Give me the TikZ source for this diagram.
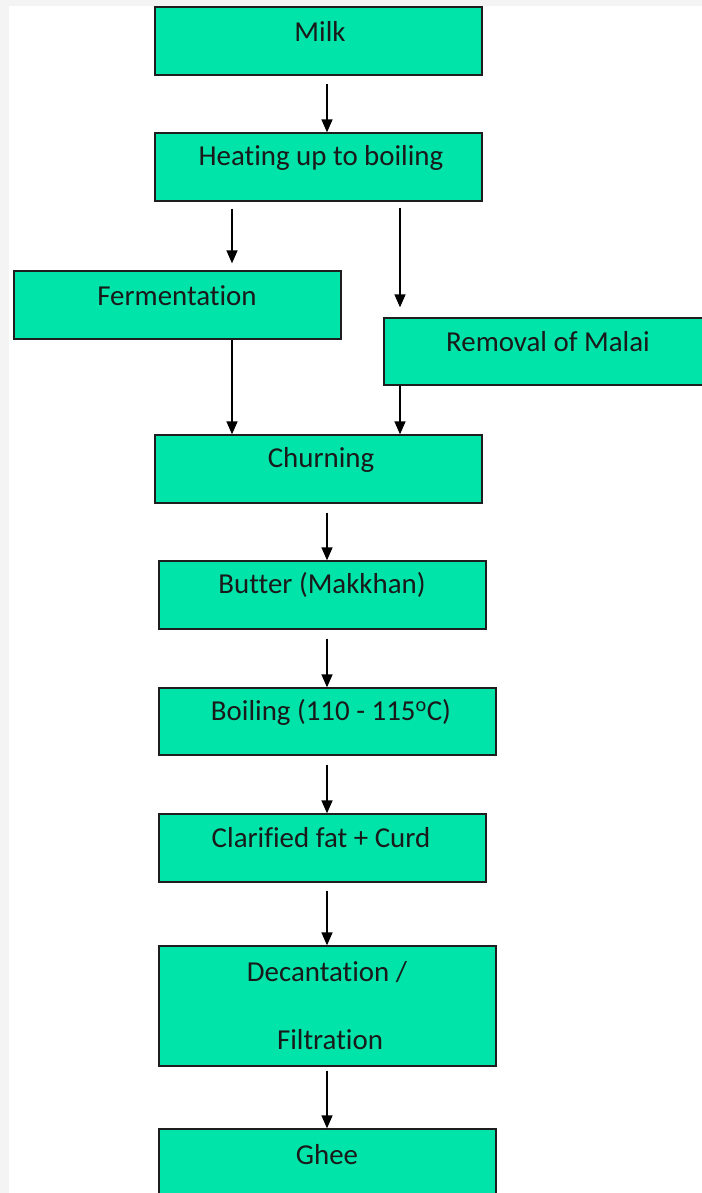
\documentclass[tikz,border=0pt]{standalone}
\usepackage{fontspec}
\setmainfont[Ligatures={NoCommon,NoContextual}]{Carlito}
\usetikzlibrary{arrows.meta}
\definecolor{boxfill}{RGB}{0,228,170}
\definecolor{edge}{RGB}{30,30,30}
\definecolor{bggray}{RGB}{244,244,244}
\tikzset{
  box/.style={draw=edge, line width=1.3bp, fill=boxfill, rectangle, inner sep=0pt},
  txt/.style={font=\fontsize{29}{32}\selectfont, text=black!90, inner sep=0pt, anchor=center, align=center},
  arr/.style={draw=black, line width=1.4bp, -{Triangle[width=11bp,length=13bp]}}
}
\begin{document}
\begin{tikzpicture}[x=1bp,y=-1bp]
\fill[bggray] (0,0) rectangle (702,1193);
\fill[white] (9,6) rectangle (702,1193);
\useasboundingbox (0,0) rectangle (702,1193);

\node[box, minimum width=327bp, minimum height=68bp] (milk) at (318.5,41) {};
\node[box, minimum width=327bp, minimum height=68bp] (heat) at (318.5,167) {};
\node[box, minimum width=327bp, minimum height=68bp] (ferm) at (177.5,305) {};
\node[box, minimum width=328bp, minimum height=67bp] (rem) at (548,351.5) {};
\node[box, minimum width=327bp, minimum height=68bp] (churn) at (318.5,469) {};
\node[box, minimum width=327bp, minimum height=68bp] (butter) at (322.5,595) {};
\node[box, minimum width=337bp, minimum height=67bp] (boil) at (327.5,721.5) {};
\node[box, minimum width=327bp, minimum height=68bp] (clar) at (322.5,848) {};
\node[box, minimum width=337bp, minimum height=120bp] (dec) at (327.5,1006) {};
\node[box, minimum width=337bp, minimum height=82bp] (ghee) at (327.5,1170) {};

\node[txt] (tmilk) at (320,31) {Milk};
\node[txt] (theat) at (321,158) {Heating up to boiling};
\node[txt] (tferm) at (177,296) {Fermentation};
\node[txt] (trem) at (548,342) {Removal of Malai};
\node[txt] (tchurn) at (321,460) {Churning};
\node[txt] (tbutter) at (322,585) {Butter (Makkhan)};
\node[txt] (tboil) at (331,712) {Boiling (110 - 115\textsuperscript{o}C)};
\node[txt] (tclar) at (321,838) {Clarified fat + Curd};
\node[txt] (tdec) at (327,972) {Decantation /};
\node[txt] (tfilt) at (330,1040) {Filtration};
\node[txt] (tghee) at (327,1155) {Ghee};

\coordinate (cx) at (327,0);
\coordinate (cl) at (232,0);
\coordinate (cr) at (400,0);

\draw[arr, shorten <=8bp] (milk.south -| cx) -- (heat.north -| cx);
\draw[arr, shorten <=7bp, shorten >=7bp] (heat.south -| cl) -- (ferm.north -| cl);
\draw[arr, shorten <=6bp, shorten >=10bp] (heat.south -| cr) -- (rem.north -| cr);
\draw[arr] (ferm.south -| cl) -- (churn.north -| cl);
\draw[arr] (rem.south -| cr) -- (churn.north -| cr);
\draw[arr, shorten <=9bp] (churn.south -| cx) -- (butter.north -| cx);
\draw[arr, shorten <=9bp] (butter.south -| cx) -- (boil.north -| cx);
\draw[arr, shorten <=9bp] (boil.south -| cx) -- (clar.north -| cx);
\draw[arr, shorten <=8bp] (clar.south -| cx) -- (dec.north -| cx);
\draw[arr, shorten <=4bp] (dec.south -| cx) -- (ghee.north -| cx);
\end{tikzpicture}
\end{document}
